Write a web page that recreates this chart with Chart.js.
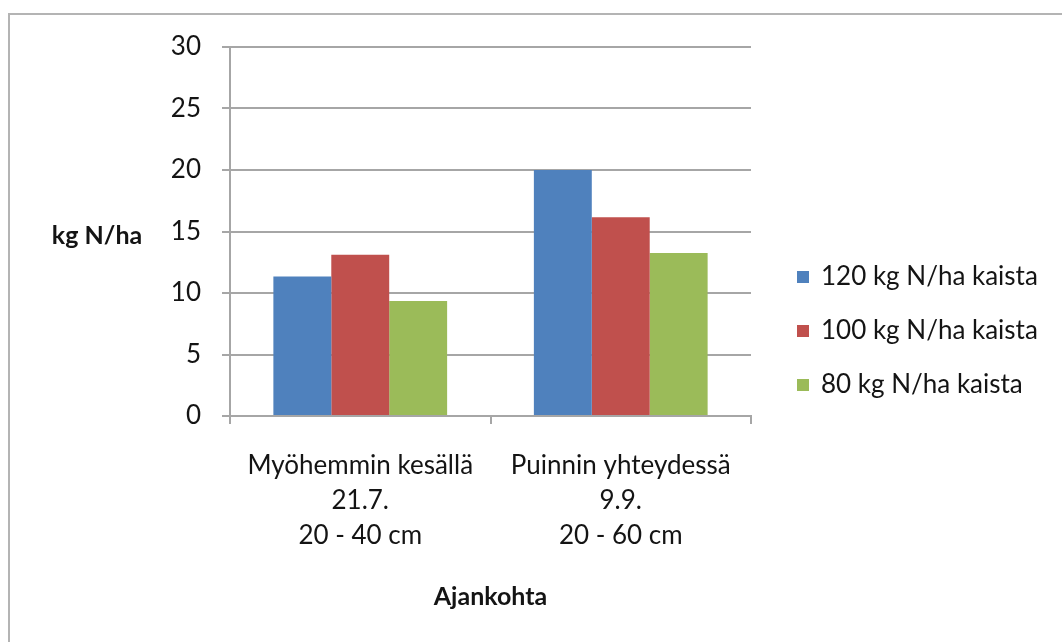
<!DOCTYPE html>
<html>
<head>
<meta charset="utf-8">
<script src="https://cdn.jsdelivr.net/npm/chart.js@4"></script>
<style>
  html, body { margin: 0; padding: 0; background: #fff; }
  #wrap { position: relative; width: 1062px; height: 642px; }
</style>
</head>
<body>
<div id="wrap"><canvas id="myChart" width="1062" height="642"></canvas></div>
<script>
// data
var categories = [
  ['Myöhemmin kesällä', '21.7.', '20 - 40 cm'],
  ['Puinnin yhteydessä', '9.9.', '20 - 60 cm']
];
var seriesNames = ['120 kg N/ha kaista', '100 kg N/ha kaista', '80 kg N/ha kaista'];
var n120 = [11.35, 20.0];
var n100 = [13.1, 16.15];
var n80 = [9.35, 13.25];
var yTicks = [0, 5, 10, 15, 20, 25, 30];
var yTitle = 'kg N/ha';
var xTitle = 'Ajankohta';

var colors = ['#4f81bd', '#c0504d', '#9bbb59'];
var FONT = 'Lato, "Open Sans", sans-serif';
var gridColor = '#a6a6a6';
var textColor = '#141414';

// frame, axis titles and legend drawn around the chart area
var extras = {
  id: 'extras',
  beforeDraw: function (chart) {
    var c = chart.ctx;
    c.save();
    c.fillStyle = '#fff';
    c.fillRect(0, 0, chart.width, chart.height);
    c.strokeStyle = '#b4b4b4';
    c.lineWidth = 2;
    c.beginPath();
    c.moveTo(9, 660);
    c.lineTo(9, 14);
    c.lineTo(1080, 14);
    c.stroke();
    c.restore();
  },
  afterDraw: function (chart) {
    var c = chart.ctx;
    var a = chart.chartArea;
    c.save();
    c.fillStyle = textColor;
    c.font = 'bold 25px ' + FONT;
    c.textAlign = 'center';
    c.textBaseline = 'middle';
    c.fillText(yTitle, 97, 236);
    c.fillText(xTitle, (a.left + a.right) / 2, 597);

    // legend
    c.font = '26px ' + FONT;
    c.textAlign = 'left';
    chart.data.datasets.forEach(function (ds, i) {
      var y = 277 + i * 54;
      c.fillStyle = ds.backgroundColor;
      c.fillRect(797, y - 6, 12, 12);
      c.fillStyle = textColor;
      c.fillText(ds.label, 821, y);
    });
    c.restore();
  }
};

var ctx = document.getElementById('myChart').getContext('2d');
var myChart = new Chart(ctx, {
  type: 'bar',
  data: {
    labels: categories,
    datasets: [
      { label: seriesNames[0], data: n120, backgroundColor: colors[0] },
      { label: seriesNames[1], data: n100, backgroundColor: colors[1] },
      { label: seriesNames[2], data: n80, backgroundColor: colors[2] }
    ]
  },
  options: {
    responsive: false,
    animation: false,
    layout: { padding: { left: 0, right: 311, top: 47, bottom: 0 } },
    datasets: { bar: { categoryPercentage: 0.667, barPercentage: 1.0, borderWidth: 0 } },
    plugins: {
      legend: { display: false },
      tooltip: { enabled: false },
      title: { display: false }
    },
    scales: {
      x: {
        grid: { display: true, drawOnChartArea: false, drawTicks: true, tickLength: 8, color: gridColor, lineWidth: 2, offset: true },
        border: { display: true, color: gridColor, width: 2 },
        ticks: {
          color: textColor,
          padding: 24,
          maxRotation: 0,
          autoSkip: false,
          font: { family: FONT, size: 26, lineHeight: 1.35 }
        },
        afterFit: function (scale) { scale.height = 226; }
      },
      y: {
        min: 0,
        max: 30,
        afterBuildTicks: function (scale) {
          scale.ticks = yTicks.map(function (v) { return { value: v }; });
        },
        grid: { color: gridColor, lineWidth: 2, drawTicks: true, tickLength: 8 },
        border: { display: true, color: gridColor, width: 2 },
        ticks: {
          color: textColor,
          padding: 21,
          font: { family: FONT, size: 26 }
        },
        afterFit: function (scale) { scale.width = 230; }
      }
    }
  },
  plugins: [extras]
});
</script>
</body>
</html>
